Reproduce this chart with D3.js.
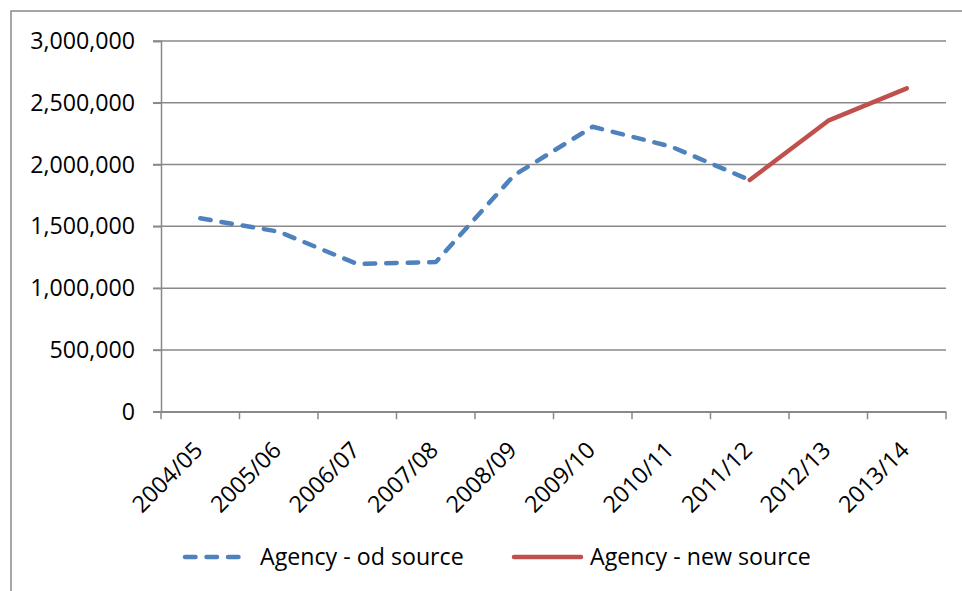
<!DOCTYPE html>
<html>
<head>
<meta charset="utf-8">
<script src="https://cdn.jsdelivr.net/npm/d3@7"></script>
<style>
  body { margin: 0; background: #fff; }
  svg text { font-family: 'Open Sans', sans-serif; fill: #000; }
</style>
</head>
<body>
<svg id="chart" width="962" height="591"></svg>
<script>
const years = ['2004/05', '2005/06', '2006/07', '2007/08', '2008/09', '2009/10', '2010/11', '2011/12', '2012/13', '2013/14']
const oldSource = [1565000, 1457000, 1195000, 1211000, 1915000, 2306000, 2145000, 1875000, null, null]
const newSource = [null, null, null, null, null, null, null, 1875000, 2355000, 2617000]
const yTicks = [0, 500000, 1000000, 1500000, 2000000, 2500000, 3000000]
const seriesNames = ['Agency - od source', 'Agency - new source']

const blue = '#4f81bd'
const red = '#c0504d'
const gridColor = '#898989'
const fontSize = '23.2px'

const svg = d3.select('#chart')

// chart frame (extends past the picture on right / bottom)
svg.append('rect')
  .attr('x', 11).attr('y', 11)
  .attr('width', 1000).attr('height', 1000)
  .attr('fill', 'none')
  .attr('stroke', gridColor)
  .attr('stroke-width', 1.5)

const plotLeft = 161
const plotRight = 946
const plotTop = 41
const plotBottom = 411.7

const x = d3.scaleBand().domain(years).range([plotLeft, plotRight])
const y = d3.scaleLinear().domain([0, 3000000]).range([plotBottom, plotTop])

// gridlines
svg.append('g')
  .selectAll('line')
  .data(yTicks)
  .join('line')
  .attr('x1', plotLeft - 8).attr('x2', plotRight)
  .attr('y1', d => y(d)).attr('y2', d => y(d))
  .attr('stroke', gridColor)
  .attr('stroke-width', 1.5)

// y axis
const yAxis = svg.append('g')
  .attr('transform', `translate(${plotLeft},0)`)
  .call(d3.axisLeft(y).tickValues(yTicks).tickSize(8).tickFormat(d3.format(',')))
yAxis.select('.domain').attr('stroke', gridColor).attr('stroke-width', 1.5)
yAxis.selectAll('.tick line').attr('stroke', gridColor).attr('stroke-width', 1.5)
yAxis.selectAll('.tick text')
  .attr('x', -26)
  .style('font-size', fontSize)
  .style('font-family', "'Open Sans', sans-serif")

// x axis
const xAxis = svg.append('g')
  .attr('transform', `translate(0,${plotBottom})`)
  .call(d3.axisBottom(x).tickSize(0).tickSizeOuter(0))
xAxis.select('.domain').attr('stroke', gridColor).attr('stroke-width', 1.5)
xAxis.selectAll('.tick text')
  .attr('text-anchor', 'end')
  .attr('dy', 0)
  .attr('y', 0)
  .attr('transform', 'translate(4,40) rotate(-45)')
  .style('font-size', fontSize)
  .style('font-family', "'Open Sans', sans-serif")

// x ticks on band boundaries
svg.append('g')
  .selectAll('line')
  .data(d3.range(years.length + 1))
  .join('line')
  .attr('x1', i => plotLeft + i * x.step()).attr('x2', i => plotLeft + i * x.step())
  .attr('y1', plotBottom).attr('y2', plotBottom + 7.5)
  .attr('stroke', gridColor)
  .attr('stroke-width', 1.5)

const line = d3.line()
  .defined(d => d.v !== null)
  .x(d => x(d.year) + x.bandwidth() / 2)
  .y(d => y(d.v))

svg.append('path')
  .datum(years.map((year, i) => ({ year, v: oldSource[i] })))
  .attr('d', line)
  .attr('fill', 'none')
  .attr('stroke', blue)
  .attr('stroke-width', 4.5)
  .attr('stroke-linecap', 'round')
  .attr('stroke-linejoin', 'round')
  .attr('stroke-dasharray', '10.5,11')

svg.append('path')
  .datum(years.map((year, i) => ({ year, v: newSource[i] })))
  .attr('d', line)
  .attr('fill', 'none')
  .attr('stroke', red)
  .attr('stroke-width', 4.5)
  .attr('stroke-linecap', 'round')
  .attr('stroke-linejoin', 'round')

// legend
const legendY = 557
const legend = [
  { name: seriesNames[0], color: blue, dash: '10.5,11', x1: 185, x2: 244, tx: 260 },
  { name: seriesNames[1], color: red, dash: null, x1: 514, x2: 581, tx: 590 }
]
const lg = svg.append('g')
  .selectAll('g')
  .data(legend)
  .join('g')
lg.append('line')
  .attr('x1', d => d.x1).attr('x2', d => d.x2)
  .attr('y1', legendY).attr('y2', legendY)
  .attr('stroke', d => d.color)
  .attr('stroke-width', 4.5)
  .attr('stroke-linecap', 'round')
  .attr('stroke-dasharray', d => d.dash)
lg.append('text')
  .attr('x', d => d.tx)
  .attr('y', legendY)
  .attr('dy', '0.35em')
  .style('font-size', fontSize)
  .text(d => d.name)
</script>
</body>
</html>
